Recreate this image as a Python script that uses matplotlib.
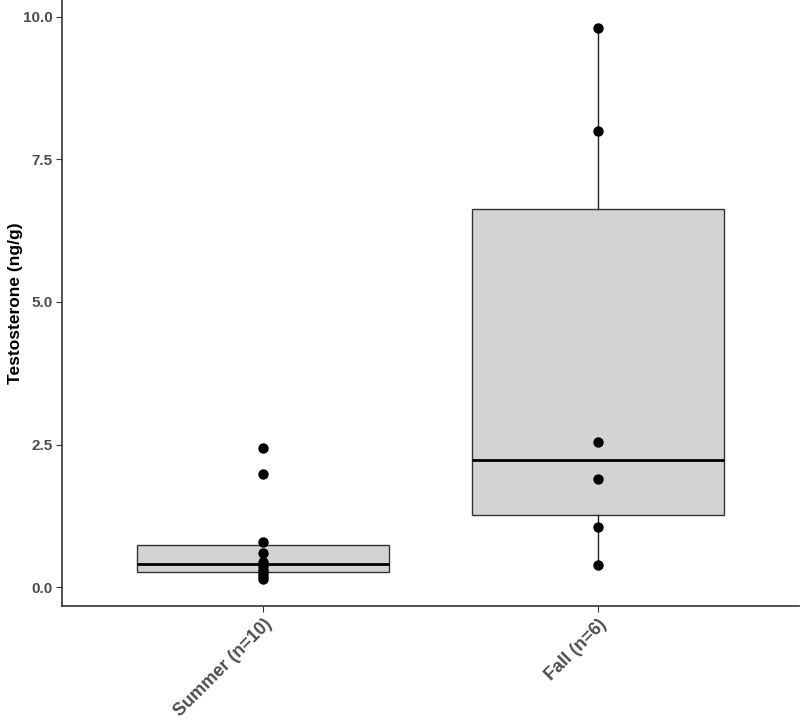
import matplotlib
matplotlib.use("Agg")
import matplotlib.pyplot as plt
import numpy as np

plt.rcParams['font.family'] = ['Liberation Sans', 'DejaVu Sans']

groups = ["Summer (n=10)", "Fall (n=6)"]
summer = [2.45, 1.98, 0.80, 0.60, 0.45, 0.38, 0.30, 0.25, 0.20, 0.15]
fall = [9.80, 8.00, 2.55, 1.90, 1.05, 0.40]
yticks = [0.0, 2.5, 5.0, 7.5, 10.0]

data = [summer, fall]
pos = [1, 2]

fig = plt.figure(figsize=(8, 7.2), dpi=100)
ax = fig.add_axes([0.0775, 0.158, 0.9215, 0.842])

bp = ax.boxplot(data, positions=pos, widths=0.75, whis=1.5, patch_artist=True,
                showfliers=False, showcaps=False,
                boxprops=dict(facecolor="#D3D3D3", edgecolor="#333333", linewidth=1.0),
                medianprops=dict(color="black", linewidth=2.0),
                whiskerprops=dict(color="#222222", linewidth=1.0))

for p, vals in zip(pos, data):
    ax.scatter([p] * len(vals), vals, s=42, color="black", zorder=3)

ax.set_xlim(0.4, 2.6)
ax.set_ylim(-0.33, 10.29)
ax.set_yticks(yticks)
ax.set_yticklabels(["%.1f" % v for v in yticks])
ax.set_xticks(pos)
ax.set_xticklabels(groups, rotation=45, ha="right", va="top", rotation_mode="anchor")

for lab in ax.get_xticklabels():
    lab.set_fontweight("bold")
    lab.set_fontsize(13)
    lab.set_color("#4D4D4D")
for lab in ax.get_yticklabels():
    lab.set_fontweight("bold")
    lab.set_fontsize(11)
    lab.set_color("#4D4D4D")

ax.set_ylabel("Testosterone (ng/g)", fontsize=12.5, fontweight="bold", color="black")
ax.yaxis.set_label_coords(-0.053, 0.5)

for side in ["top", "right"]:
    ax.spines[side].set_visible(False)
for side in ["left", "bottom"]:
    ax.spines[side].set_color("#333333")
    ax.spines[side].set_linewidth(1.2)
ax.tick_params(axis="both", length=4, width=0.8, color="#333333", pad=3)

fig.savefig("out.png", dpi=100)
